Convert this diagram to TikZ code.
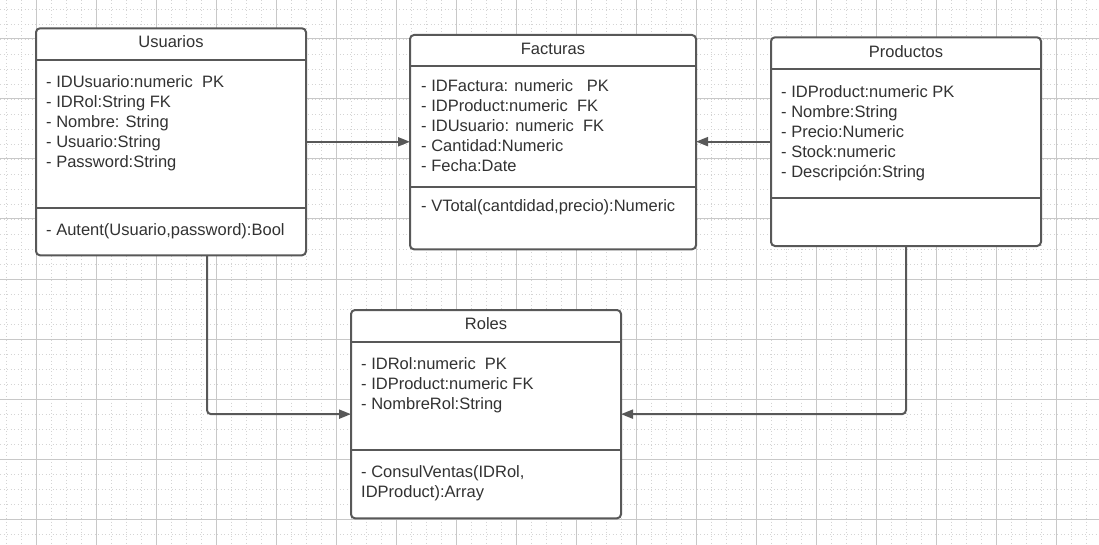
\documentclass[tikz,border=0pt]{standalone}
\usepackage{fontspec}
\setmainfont{Liberation Sans}
\usepackage{tikz}
\usetikzlibrary{arrows.meta, positioning, calc}
\definecolor{linegray}{RGB}{88, 88, 88}
\definecolor{txtgray}{RGB}{50, 50, 50}
\definecolor{gridgray}{RGB}{200, 200, 200}
\definecolor{dotgray}{RGB}{212, 212, 212}

\begin{document}
\begin{tikzpicture}[x=1pt, y=-1pt,
  classbox/.style={draw=linegray, fill=white, line width=2pt, rounded corners=4pt, inner sep=0pt, outer sep=0pt, anchor=north west},
  sepline/.style={draw=linegray, line width=2pt},
  title/.style={anchor=base, inner sep=0pt, text=txtgray, font=\fontsize{16.5}{20}\selectfont},
  attr/.style={anchor=base west, inner sep=0pt, text=txtgray, font=\fontsize{16.5}{20}\selectfont},
  conn/.style={draw=linegray, line width=2pt, rounded corners=4pt, -{Triangle[length=12pt, width=9pt]}},
  minorgrid/.style={draw=dotgray, line width=0.8pt, dash pattern=on 1pt off 2.5pt},
  majorgrid/.style={draw=gridgray, line width=1pt}
]
  \useasboundingbox (0,0) rectangle (1099,545);
  \fill[white] (0,0) rectangle (1099,545);

  % background grid
  \foreach \gx in {0,...,72} \draw[minorgrid] (6.7+15*\gx,0) -- ++(0,545);
  \foreach \gy in {0,...,35} \draw[minorgrid] (0,9+15*\gy) -- ++(1099,0);
  \foreach \gx in {0,...,17} \draw[majorgrid] (36.7+60*\gx,0) -- ++(0,545);
  \foreach \gy in {0,...,8} \draw[majorgrid] (0,39+60*\gy) -- ++(1099,0);

  % Usuarios
  \node[classbox, minimum width=270pt, minimum height=227pt] (usu) at (36,28.3) {};
  \draw[sepline] ([yshift=-32pt]usu.north west) -- ([yshift=-32pt]usu.north east);
  \draw[sepline] ([yshift=-180pt]usu.north west) -- ([yshift=-180pt]usu.north east);
  \node[title] (usu-t) at (171,47.3) {Usuarios};
  \foreach \t [count=\i] in {{- IDUsuario:numeric\ \ PK}, {- IDRol:String FK}, {- Nombre: String}, {- Usuario:String}, {- Password:String}}
    \node[attr] (usu-\i) at (46,67.2+20*\i) {\t};
  \node[attr] (usu-m) at (46,235.5) {- Autent(Usuario,password):Bool};

  % Facturas
  \node[classbox, minimum width=286pt, minimum height=214.3pt] (fac) at (410,35) {};
  \draw[sepline] ([yshift=-31pt]fac.north west) -- ([yshift=-31pt]fac.north east);
  \draw[sepline] ([yshift=-152.3pt]fac.north west) -- ([yshift=-152.3pt]fac.north east);
  \node[title] (fac-t) at (553,54.7) {Facturas};
  \foreach \t [count=\i] in {{- IDFactura: numeric\ \ \ PK}, {- IDProduct:numeric\ \ FK}, {- IDUsuario: numeric\ \ FK}, {- Cantidad:Numeric}, {- Fecha:Date}}
    \node[attr] (fac-\i) at (421,71.2+20*\i) {\t};
  \node[attr] (fac-m) at (421,212) {- VTotal(cantdidad,precio):Numeric};

  % Productos
  \node[classbox, minimum width=270pt, minimum height=208.7pt] (pro) at (771,37.3) {};
  \draw[sepline] ([yshift=-32pt]pro.north west) -- ([yshift=-32pt]pro.north east);
  \draw[sepline] ([yshift=-161pt]pro.north west) -- ([yshift=-161pt]pro.north east);
  \node[title] (pro-t) at (906,57.3) {Productos};
  \foreach \t [count=\i] in {{- IDProduct:numeric PK}, {- Nombre:String}, {- Precio:Numeric}, {- Stock:numeric}, {- Descripción:String}}
    \node[attr] (pro-\i) at (781,77.2+20*\i) {\t};

  % Roles
  \node[classbox, minimum width=270pt, minimum height=208.3pt] (rol) at (351,310) {};
  \draw[sepline] ([yshift=-31.7pt]rol.north west) -- ([yshift=-31.7pt]rol.north east);
  \draw[sepline] ([yshift=-140pt]rol.north west) -- ([yshift=-140pt]rol.north east);
  \node[title] (rol-t) at (486,329.7) {Roles};
  \foreach \t [count=\i] in {{- IDRol:numeric\ \ PK}, {- IDProduct:numeric FK}, {- NombreRol:String}}
    \node[attr] (rol-\i) at (361,349.5+20*\i) {\t};
  \node[attr] (rol-m1) at (361,477.2) {- ConsulVentas(IDRol,};
  \node[attr] (rol-m2) at (361,497.2) {IDProduct):Array};

  % relations
  \draw[conn] (usu.east) -- (usu.east -| fac.west);
  \draw[conn] (pro.west) -- (pro.west -| fac.east);
  \draw[conn] ([xshift=36pt]usu.south) |- (rol.west);
  \draw[conn] (pro.south) |- (rol.east);
\end{tikzpicture}
\end{document}
